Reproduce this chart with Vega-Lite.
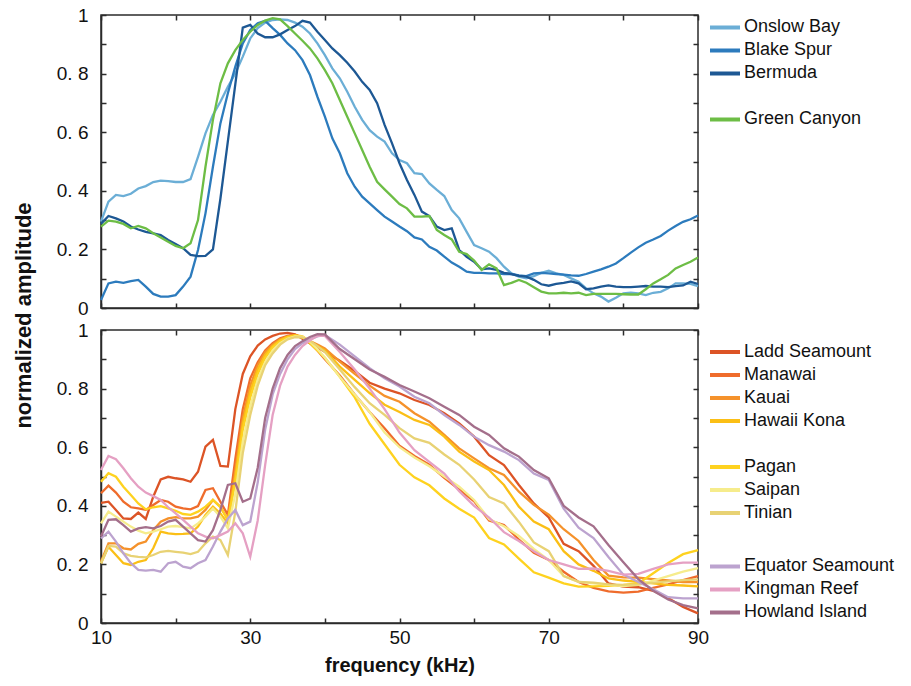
{
 "$schema": "https://vega.github.io/schema/vega-lite/v6.json",
 "background": "white",
 "padding": {"left": 11, "top": 5, "right": 5, "bottom": 5},
 "spacing": 22,
 "bounds": "flush",
 "config": {
  "font": "Liberation Sans",
  "view": {"stroke": "#2b2b2b", "strokeWidth": 1.5},
  "axis": {"domainColor": "#2b2b2b", "domainWidth": 1.5, "tickColor": "#2b2b2b", "tickWidth": 1.5, "tickSize": -5, "grid": false, "labelFont": "Liberation Sans", "labelFontSize": 19, "labelColor": "#111", "labelOverlap": false, "titleFont": "Liberation Sans", "titleFontSize": 20, "titleFontWeight": "bold", "titleColor": "#111"},
  "legend": {"orient": "none", "title": null, "symbolType": "stroke", "symbolSize": 900, "symbolStrokeWidth": 4, "labelFont": "Liberation Sans", "labelFontSize": 18, "labelColor": "#111", "labelOffset": 2, "rowPadding": 0, "clipHeight": 22.75, "padding": 0, "labelLimit": 300}
 },
 "resolve": {"scale": {"color": "independent", "stroke": "independent"}},
 "vconcat": [
  {
   "width": 597, "height": 293,
   "data": {"values": [
    {"f":10,"Onslow Bay":0.295,"Blake Spur":0.027,"Bermuda":0.287,"Green Canyon":0.278},
    {"f":11,"Onslow Bay":0.363,"Blake Spur":0.084,"Bermuda":0.314,"Green Canyon":0.298},
    {"f":12,"Onslow Bay":0.386,"Blake Spur":0.09,"Bermuda":0.306,"Green Canyon":0.295},
    {"f":13,"Onslow Bay":0.382,"Blake Spur":0.086,"Bermuda":0.295,"Green Canyon":0.287},
    {"f":14,"Onslow Bay":0.39,"Blake Spur":0.092,"Bermuda":0.278,"Green Canyon":0.272},
    {"f":15,"Onslow Bay":0.408,"Blake Spur":0.096,"Bermuda":0.268,"Green Canyon":0.28},
    {"f":16,"Onslow Bay":0.416,"Blake Spur":0.073,"Bermuda":0.26,"Green Canyon":0.272},
    {"f":17,"Onslow Bay":0.43,"Blake Spur":0.048,"Bermuda":0.255,"Green Canyon":0.255},
    {"f":18,"Onslow Bay":0.435,"Blake Spur":0.039,"Bermuda":0.249,"Green Canyon":0.241},
    {"f":19,"Onslow Bay":0.433,"Blake Spur":0.039,"Bermuda":0.232,"Green Canyon":0.226},
    {"f":20,"Onslow Bay":0.43,"Blake Spur":0.044,"Bermuda":0.218,"Green Canyon":0.212},
    {"f":21,"Onslow Bay":0.43,"Blake Spur":0.073,"Bermuda":0.204,"Green Canyon":0.204},
    {"f":22,"Onslow Bay":0.44,"Blake Spur":0.107,"Bermuda":0.181,"Green Canyon":0.221},
    {"f":23,"Onslow Bay":0.516,"Blake Spur":0.198,"Bermuda":0.177,"Green Canyon":0.3},
    {"f":24,"Onslow Bay":0.596,"Blake Spur":0.323,"Bermuda":0.178,"Green Canyon":0.482},
    {"f":25,"Onslow Bay":0.659,"Blake Spur":0.482,"Bermuda":0.2,"Green Canyon":0.642},
    {"f":26,"Onslow Bay":0.704,"Blake Spur":0.63,"Bermuda":0.373,"Green Canyon":0.767},
    {"f":27,"Onslow Bay":0.755,"Blake Spur":0.733,"Bermuda":0.569,"Green Canyon":0.835},
    {"f":28,"Onslow Bay":0.8,"Blake Spur":0.824,"Bermuda":0.764,"Green Canyon":0.88},
    {"f":29,"Onslow Bay":0.858,"Blake Spur":0.903,"Bermuda":0.957,"Green Canyon":0.915},
    {"f":30,"Onslow Bay":0.92,"Blake Spur":0.949,"Bermuda":0.966,"Green Canyon":0.943},
    {"f":31,"Onslow Bay":0.955,"Blake Spur":0.972,"Bermuda":0.937,"Green Canyon":0.966},
    {"f":32,"Onslow Bay":0.974,"Blake Spur":0.98,"Bermuda":0.924,"Green Canyon":0.981},
    {"f":33,"Onslow Bay":0.983,"Blake Spur":0.955,"Bermuda":0.924,"Green Canyon":0.989},
    {"f":34,"Onslow Bay":0.985,"Blake Spur":0.932,"Bermuda":0.934,"Green Canyon":0.985},
    {"f":35,"Onslow Bay":0.983,"Blake Spur":0.903,"Bermuda":0.949,"Green Canyon":0.962},
    {"f":36,"Onslow Bay":0.974,"Blake Spur":0.88,"Bermuda":0.962,"Green Canyon":0.937},
    {"f":37,"Onslow Bay":0.96,"Blake Spur":0.846,"Bermuda":0.98,"Green Canyon":0.912},
    {"f":38,"Onslow Bay":0.937,"Blake Spur":0.795,"Bermuda":0.974,"Green Canyon":0.886},
    {"f":39,"Onslow Bay":0.903,"Blake Spur":0.721,"Bermuda":0.943,"Green Canyon":0.852},
    {"f":40,"Onslow Bay":0.863,"Blake Spur":0.653,"Bermuda":0.915,"Green Canyon":0.812},
    {"f":41,"Onslow Bay":0.818,"Blake Spur":0.579,"Bermuda":0.886,"Green Canyon":0.767},
    {"f":42,"Onslow Bay":0.784,"Blake Spur":0.528,"Bermuda":0.863,"Green Canyon":0.71},
    {"f":43,"Onslow Bay":0.738,"Blake Spur":0.46,"Bermuda":0.837,"Green Canyon":0.653},
    {"f":44,"Onslow Bay":0.687,"Blake Spur":0.414,"Bermuda":0.807,"Green Canyon":0.596},
    {"f":45,"Onslow Bay":0.642,"Blake Spur":0.38,"Bermuda":0.772,"Green Canyon":0.539},
    {"f":46,"Onslow Bay":0.607,"Blake Spur":0.357,"Bermuda":0.744,"Green Canyon":0.482},
    {"f":47,"Onslow Bay":0.585,"Blake Spur":0.334,"Bermuda":0.699,"Green Canyon":0.431},
    {"f":48,"Onslow Bay":0.568,"Blake Spur":0.312,"Bermuda":0.625,"Green Canyon":0.405},
    {"f":49,"Onslow Bay":0.528,"Blake Spur":0.295,"Bermuda":0.562,"Green Canyon":0.38},
    {"f":50,"Onslow Bay":0.505,"Blake Spur":0.278,"Bermuda":0.494,"Green Canyon":0.355},
    {"f":51,"Onslow Bay":0.494,"Blake Spur":0.262,"Bermuda":0.437,"Green Canyon":0.34},
    {"f":52,"Onslow Bay":0.46,"Blake Spur":0.241,"Bermuda":0.386,"Green Canyon":0.312},
    {"f":53,"Onslow Bay":0.457,"Blake Spur":0.234,"Bermuda":0.329,"Green Canyon":0.312},
    {"f":54,"Onslow Bay":0.425,"Blake Spur":0.209,"Bermuda":0.314,"Green Canyon":0.314},
    {"f":55,"Onslow Bay":0.403,"Blake Spur":0.196,"Bermuda":0.278,"Green Canyon":0.266},
    {"f":56,"Onslow Bay":0.382,"Blake Spur":0.175,"Bermuda":0.266,"Green Canyon":0.249},
    {"f":57,"Onslow Bay":0.334,"Blake Spur":0.155,"Bermuda":0.272,"Green Canyon":0.234},
    {"f":58,"Onslow Bay":0.306,"Blake Spur":0.141,"Bermuda":0.198,"Green Canyon":0.192},
    {"f":59,"Onslow Bay":0.26,"Blake Spur":0.124,"Bermuda":0.175,"Green Canyon":0.184},
    {"f":60,"Onslow Bay":0.215,"Blake Spur":0.12,"Bermuda":0.158,"Green Canyon":0.162},
    {"f":61,"Onslow Bay":0.204,"Blake Spur":0.12,"Bermuda":0.132,"Green Canyon":0.13},
    {"f":62,"Onslow Bay":0.192,"Blake Spur":0.118,"Bermuda":0.135,"Green Canyon":0.149},
    {"f":63,"Onslow Bay":0.17,"Blake Spur":0.118,"Bermuda":0.13,"Green Canyon":0.135},
    {"f":64,"Onslow Bay":0.141,"Blake Spur":0.116,"Bermuda":0.12,"Green Canyon":0.078},
    {"f":65,"Onslow Bay":0.118,"Blake Spur":0.116,"Bermuda":0.116,"Green Canyon":0.086},
    {"f":66,"Onslow Bay":0.107,"Blake Spur":0.111,"Bermuda":0.11,"Green Canyon":0.096},
    {"f":67,"Onslow Bay":0.101,"Blake Spur":0.109,"Bermuda":0.107,"Green Canyon":0.086},
    {"f":68,"Onslow Bay":0.109,"Blake Spur":0.118,"Bermuda":0.096,"Green Canyon":0.071},
    {"f":69,"Onslow Bay":0.12,"Blake Spur":0.12,"Bermuda":0.081,"Green Canyon":0.056},
    {"f":70,"Onslow Bay":0.127,"Blake Spur":0.118,"Bermuda":0.076,"Green Canyon":0.05},
    {"f":71,"Onslow Bay":0.118,"Blake Spur":0.116,"Bermuda":0.082,"Green Canyon":0.05},
    {"f":72,"Onslow Bay":0.113,"Blake Spur":0.114,"Bermuda":0.086,"Green Canyon":0.052},
    {"f":73,"Onslow Bay":0.101,"Blake Spur":0.111,"Bermuda":0.091,"Green Canyon":0.05},
    {"f":74,"Onslow Bay":0.09,"Blake Spur":0.11,"Bermuda":0.084,"Green Canyon":0.052},
    {"f":75,"Onslow Bay":0.067,"Blake Spur":0.116,"Bermuda":0.064,"Green Canyon":0.044},
    {"f":76,"Onslow Bay":0.05,"Blake Spur":0.124,"Bermuda":0.067,"Green Canyon":0.048},
    {"f":77,"Onslow Bay":0.039,"Blake Spur":0.132,"Bermuda":0.073,"Green Canyon":0.048},
    {"f":78,"Onslow Bay":0.022,"Blake Spur":0.141,"Bermuda":0.077,"Green Canyon":0.048},
    {"f":79,"Onslow Bay":0.035,"Blake Spur":0.152,"Bermuda":0.073,"Green Canyon":0.048},
    {"f":80,"Onslow Bay":0.05,"Blake Spur":0.17,"Bermuda":0.071,"Green Canyon":0.047},
    {"f":81,"Onslow Bay":0.052,"Blake Spur":0.189,"Bermuda":0.071,"Green Canyon":0.046},
    {"f":82,"Onslow Bay":0.05,"Blake Spur":0.207,"Bermuda":0.073,"Green Canyon":0.046},
    {"f":83,"Onslow Bay":0.044,"Blake Spur":0.223,"Bermuda":0.075,"Green Canyon":0.064},
    {"f":84,"Onslow Bay":0.052,"Blake Spur":0.234,"Bermuda":0.073,"Green Canyon":0.084},
    {"f":85,"Onslow Bay":0.055,"Blake Spur":0.246,"Bermuda":0.073,"Green Canyon":0.098},
    {"f":86,"Onslow Bay":0.067,"Blake Spur":0.264,"Bermuda":0.071,"Green Canyon":0.113},
    {"f":87,"Onslow Bay":0.084,"Blake Spur":0.28,"Bermuda":0.075,"Green Canyon":0.135},
    {"f":88,"Onslow Bay":0.084,"Blake Spur":0.294,"Bermuda":0.077,"Green Canyon":0.147},
    {"f":89,"Onslow Bay":0.082,"Blake Spur":0.303,"Bermuda":0.09,"Green Canyon":0.158},
    {"f":90,"Onslow Bay":0.075,"Blake Spur":0.316,"Bermuda":0.082,"Green Canyon":0.172}
   ]},
   "transform": [{"fold": ["Onslow Bay", "Blake Spur", "Bermuda", "Green Canyon"], "as": ["site", "amp"]}],
   "resolve": {"axis": {"x": "independent", "y": "independent"}},
   "layer": [
    {
     "mark": {"type": "line", "strokeWidth": 2.3},
     "encoding": {
      "x": {"field": "f", "type": "quantitative", "scale": {"domain": [10, 90], "nice": false, "zero": false}, "axis": {"values": [10,20,30,40,50,60,70,80,90], "labels": false, "title": null}},
      "y": {"field": "amp", "type": "quantitative", "scale": {"domain": [0, 1], "nice": false}, "axis": {"values": [0,0.1,0.2,0.3,0.4,0.5,0.6,0.7,0.8,0.9,1], "labelPadding": 18, "labelExpr": "datum.value == 0 ? '0' : datum.value == 1 ? '1' : (round(datum.value*10) % 2 == 0 ? '0. ' + round(datum.value*10) : '')", "title": null}},
      "color": {"field": "site", "type": "nominal", "scale": {"domain": ["Onslow Bay", "Blake Spur", "Bermuda", " ", "Green Canyon"], "range": ["#6baed6", "#2c7bbd", "#1d5894", "rgba(0,0,0,0)", "#6dbd45"]}, "legend": {"legendX": 607, "legendY": 1}}
     }
    },
    {
     "mark": {"type": "line", "opacity": 0},
     "encoding": {
      "x": {"field": "f", "type": "quantitative", "axis": {"orient": "top", "values": [10,20,30,40,50,60,70,80,90], "labels": false, "domain": false, "title": null}},
      "y": {"field": "amp", "type": "quantitative", "axis": {"orient": "right", "values": [0,0.1,0.2,0.3,0.4,0.5,0.6,0.7,0.8,0.9,1], "labels": false, "domain": false, "title": null}},
      "detail": {"field": "site"}
     }
    }
   ]
  },
  {
   "width": 597, "height": 293,
   "data": {"values": [
    {"f":10,"Ladd Seamount":0.41,"Manawai":0.443,"Kauai":0.209,"Hawaii Kona":0.204,"Pagan":0.482,"Saipan":0.34,"Tinian":0.204,"Equator Seamount":0.289,"Kingman Reef":0.522,"Howland Island":0.295},
    {"f":11,"Ladd Seamount":0.414,"Manawai":0.469,"Kauai":0.272,"Hawaii Kona":0.26,"Pagan":0.511,"Saipan":0.38,"Tinian":0.263,"Equator Seamount":0.312,"Kingman Reef":0.57,"Howland Island":0.352},
    {"f":12,"Ladd Seamount":0.386,"Manawai":0.445,"Kauai":0.272,"Hawaii Kona":0.232,"Pagan":0.499,"Saipan":0.363,"Tinian":0.261,"Equator Seamount":0.278,"Kingman Reef":0.559,"Howland Island":0.354},
    {"f":13,"Ladd Seamount":0.357,"Manawai":0.414,"Kauai":0.255,"Hawaii Kona":0.204,"Pagan":0.465,"Saipan":0.346,"Tinian":0.238,"Equator Seamount":0.238,"Kingman Reef":0.528,"Howland Island":0.334},
    {"f":14,"Ladd Seamount":0.355,"Manawai":0.395,"Kauai":0.251,"Hawaii Kona":0.198,"Pagan":0.437,"Saipan":0.329,"Tinian":0.229,"Equator Seamount":0.204,"Kingman Reef":0.494,"Howland Island":0.312},
    {"f":15,"Ladd Seamount":0.377,"Manawai":0.391,"Kauai":0.27,"Hawaii Kona":0.209,"Pagan":0.408,"Saipan":0.315,"Tinian":0.226,"Equator Seamount":0.181,"Kingman Reef":0.465,"Howland Island":0.323},
    {"f":16,"Ladd Seamount":0.355,"Manawai":0.386,"Kauai":0.278,"Hawaii Kona":0.215,"Pagan":0.388,"Saipan":0.306,"Tinian":0.224,"Equator Seamount":0.179,"Kingman Reef":0.445,"Howland Island":0.327},
    {"f":17,"Ladd Seamount":0.431,"Manawai":0.403,"Kauai":0.317,"Hawaii Kona":0.255,"Pagan":0.395,"Saipan":0.312,"Tinian":0.232,"Equator Seamount":0.181,"Kingman Reef":0.433,"Howland Island":0.323},
    {"f":18,"Ladd Seamount":0.49,"Manawai":0.42,"Kauai":0.346,"Hawaii Kona":0.312,"Pagan":0.399,"Saipan":0.32,"Tinian":0.243,"Equator Seamount":0.175,"Kingman Reef":0.42,"Howland Island":0.331},
    {"f":19,"Ladd Seamount":0.499,"Manawai":0.414,"Kauai":0.357,"Hawaii Kona":0.306,"Pagan":0.391,"Saipan":0.329,"Tinian":0.246,"Equator Seamount":0.204,"Kingman Reef":0.395,"Howland Island":0.346},
    {"f":20,"Ladd Seamount":0.494,"Manawai":0.397,"Kauai":0.361,"Hawaii Kona":0.303,"Pagan":0.383,"Saipan":0.331,"Tinian":0.243,"Equator Seamount":0.209,"Kingman Reef":0.374,"Howland Island":0.352},
    {"f":21,"Ladd Seamount":0.49,"Manawai":0.391,"Kauai":0.357,"Hawaii Kona":0.304,"Pagan":0.372,"Saipan":0.327,"Tinian":0.24,"Equator Seamount":0.192,"Kingman Reef":0.352,"Howland Island":0.329},
    {"f":22,"Ladd Seamount":0.482,"Manawai":0.388,"Kauai":0.357,"Hawaii Kona":0.306,"Pagan":0.369,"Saipan":0.323,"Tinian":0.235,"Equator Seamount":0.187,"Kingman Reef":0.329,"Howland Island":0.306},
    {"f":23,"Ladd Seamount":0.516,"Manawai":0.399,"Kauai":0.363,"Hawaii Kona":0.329,"Pagan":0.38,"Saipan":0.34,"Tinian":0.243,"Equator Seamount":0.204,"Kingman Reef":0.306,"Howland Island":0.283},
    {"f":24,"Ladd Seamount":0.602,"Manawai":0.454,"Kauai":0.386,"Hawaii Kona":0.369,"Pagan":0.397,"Saipan":0.363,"Tinian":0.272,"Equator Seamount":0.215,"Kingman Reef":0.295,"Howland Island":0.278},
    {"f":25,"Ladd Seamount":0.625,"Manawai":0.46,"Kauai":0.42,"Hawaii Kona":0.397,"Pagan":0.42,"Saipan":0.391,"Tinian":0.295,"Equator Seamount":0.261,"Kingman Reef":0.289,"Howland Island":0.317},
    {"f":26,"Ladd Seamount":0.536,"Manawai":0.414,"Kauai":0.397,"Hawaii Kona":0.374,"Pagan":0.395,"Saipan":0.363,"Tinian":0.283,"Equator Seamount":0.312,"Kingman Reef":0.3,"Howland Island":0.386},
    {"f":27,"Ladd Seamount":0.534,"Manawai":0.369,"Kauai":0.352,"Hawaii Kona":0.34,"Pagan":0.352,"Saipan":0.323,"Tinian":0.232,"Equator Seamount":0.357,"Kingman Reef":0.312,"Howland Island":0.471},
    {"f":28,"Ladd Seamount":0.73,"Manawai":0.56,"Kauai":0.52,"Hawaii Kona":0.5,"Pagan":0.48,"Saipan":0.44,"Tinian":0.38,"Equator Seamount":0.386,"Kingman Reef":0.34,"Howland Island":0.477},
    {"f":29,"Ladd Seamount":0.85,"Manawai":0.73,"Kauai":0.7,"Hawaii Kona":0.68,"Pagan":0.66,"Saipan":0.62,"Tinian":0.58,"Equator Seamount":0.334,"Kingman Reef":0.306,"Howland Island":0.414},
    {"f":30,"Ladd Seamount":0.91,"Manawai":0.835,"Kauai":0.81,"Hawaii Kona":0.79,"Pagan":0.77,"Saipan":0.74,"Tinian":0.71,"Equator Seamount":0.346,"Kingman Reef":0.226,"Howland Island":0.425},
    {"f":31,"Ladd Seamount":0.947,"Manawai":0.89,"Kauai":0.88,"Hawaii Kona":0.865,"Pagan":0.85,"Saipan":0.83,"Tinian":0.81,"Equator Seamount":0.48,"Kingman Reef":0.35,"Howland Island":0.53},
    {"f":32,"Ladd Seamount":0.968,"Manawai":0.93,"Kauai":0.925,"Hawaii Kona":0.915,"Pagan":0.905,"Saipan":0.89,"Tinian":0.88,"Equator Seamount":0.66,"Kingman Reef":0.54,"Howland Island":0.7},
    {"f":33,"Ladd Seamount":0.98,"Manawai":0.955,"Kauai":0.95,"Hawaii Kona":0.945,"Pagan":0.94,"Saipan":0.93,"Tinian":0.92,"Equator Seamount":0.78,"Kingman Reef":0.71,"Howland Island":0.8},
    {"f":34,"Ladd Seamount":0.988,"Manawai":0.972,"Kauai":0.968,"Hawaii Kona":0.965,"Pagan":0.962,"Saipan":0.955,"Tinian":0.95,"Equator Seamount":0.85,"Kingman Reef":0.81,"Howland Island":0.87},
    {"f":35,"Ladd Seamount":0.99,"Manawai":0.98,"Kauai":0.978,"Hawaii Kona":0.977,"Pagan":0.975,"Saipan":0.97,"Tinian":0.968,"Equator Seamount":0.9,"Kingman Reef":0.875,"Howland Island":0.915},
    {"f":36,"Ladd Seamount":0.985,"Manawai":0.983,"Kauai":0.982,"Hawaii Kona":0.982,"Pagan":0.98,"Saipan":0.978,"Tinian":0.976,"Equator Seamount":0.935,"Kingman Reef":0.915,"Howland Island":0.945},
    {"f":37,"Ladd Seamount":0.97,"Manawai":0.975,"Kauai":0.975,"Hawaii Kona":0.978,"Pagan":0.975,"Saipan":0.977,"Tinian":0.975,"Equator Seamount":0.955,"Kingman Reef":0.945,"Howland Island":0.962},
    {"f":38,"Ladd Seamount":0.955,"Manawai":0.955,"Kauai":0.962,"Hawaii Kona":0.96,"Pagan":0.955,"Saipan":0.96,"Tinian":0.963,"Equator Seamount":0.968,"Kingman Reef":0.965,"Howland Island":0.976},
    {"f":39,"Ladd Seamount":0.94,"Manawai":0.93,"Kauai":0.95,"Hawaii Kona":0.945,"Pagan":0.93,"Saipan":0.935,"Tinian":0.945,"Equator Seamount":0.978,"Kingman Reef":0.98,"Howland Island":0.986},
    {"f":40,"Ladd Seamount":0.926,"Manawai":0.9,"Kauai":0.937,"Hawaii Kona":0.93,"Pagan":0.905,"Saipan":0.905,"Tinian":0.925,"Equator Seamount":0.983,"Kingman Reef":0.98,"Howland Island":0.985},
    {"f":42,"Ladd Seamount":0.895,"Manawai":0.845,"Kauai":0.892,"Hawaii Kona":0.875,"Pagan":0.84,"Saipan":0.84,"Tinian":0.865,"Equator Seamount":0.95,"Kingman Reef":0.925,"Howland Island":0.935},
    {"f":44,"Ladd Seamount":0.86,"Manawai":0.78,"Kauai":0.85,"Hawaii Kona":0.83,"Pagan":0.77,"Saipan":0.78,"Tinian":0.805,"Equator Seamount":0.91,"Kingman Reef":0.865,"Howland Island":0.9},
    {"f":46,"Ladd Seamount":0.82,"Manawai":0.72,"Kauai":0.81,"Hawaii Kona":0.785,"Pagan":0.68,"Saipan":0.72,"Tinian":0.75,"Equator Seamount":0.87,"Kingman Reef":0.8,"Howland Island":0.865},
    {"f":48,"Ladd Seamount":0.8,"Manawai":0.665,"Kauai":0.775,"Hawaii Kona":0.745,"Pagan":0.61,"Saipan":0.65,"Tinian":0.71,"Equator Seamount":0.835,"Kingman Reef":0.73,"Howland Island":0.84},
    {"f":50,"Ladd Seamount":0.784,"Manawai":0.605,"Kauai":0.755,"Hawaii Kona":0.72,"Pagan":0.54,"Saipan":0.6,"Tinian":0.665,"Equator Seamount":0.807,"Kingman Reef":0.65,"Howland Island":0.812},
    {"f":52,"Ladd Seamount":0.761,"Manawai":0.57,"Kauai":0.716,"Hawaii Kona":0.693,"Pagan":0.497,"Saipan":0.565,"Tinian":0.63,"Equator Seamount":0.772,"Kingman Reef":0.59,"Howland Island":0.79},
    {"f":54,"Ladd Seamount":0.744,"Manawai":0.54,"Kauai":0.687,"Hawaii Kona":0.676,"Pagan":0.47,"Saipan":0.535,"Tinian":0.615,"Equator Seamount":0.75,"Kingman Reef":0.55,"Howland Island":0.767},
    {"f":56,"Ladd Seamount":0.716,"Manawai":0.495,"Kauai":0.642,"Hawaii Kona":0.636,"Pagan":0.425,"Saipan":0.5,"Tinian":0.575,"Equator Seamount":0.71,"Kingman Reef":0.51,"Howland Island":0.738},
    {"f":58,"Ladd Seamount":0.681,"Manawai":0.455,"Kauai":0.596,"Hawaii Kona":0.585,"Pagan":0.39,"Saipan":0.465,"Tinian":0.54,"Equator Seamount":0.676,"Kingman Reef":0.45,"Howland Island":0.71},
    {"f":60,"Ladd Seamount":0.636,"Manawai":0.415,"Kauai":0.562,"Hawaii Kona":0.551,"Pagan":0.36,"Saipan":0.42,"Tinian":0.49,"Equator Seamount":0.636,"Kingman Reef":0.4,"Howland Island":0.67},
    {"f":62,"Ladd Seamount":0.573,"Manawai":0.35,"Kauai":0.528,"Hawaii Kona":0.522,"Pagan":0.29,"Saipan":0.355,"Tinian":0.43,"Equator Seamount":0.607,"Kingman Reef":0.36,"Howland Island":0.642},
    {"f":64,"Ladd Seamount":0.539,"Manawai":0.334,"Kauai":0.505,"Hawaii Kona":0.471,"Pagan":0.268,"Saipan":0.33,"Tinian":0.408,"Equator Seamount":0.585,"Kingman Reef":0.31,"Howland Island":0.596},
    {"f":66,"Ladd Seamount":0.471,"Manawai":0.285,"Kauai":0.448,"Hawaii Kona":0.397,"Pagan":0.22,"Saipan":0.297,"Tinian":0.345,"Equator Seamount":0.556,"Kingman Reef":0.28,"Howland Island":0.568},
    {"f":68,"Ladd Seamount":0.408,"Manawai":0.24,"Kauai":0.403,"Hawaii Kona":0.346,"Pagan":0.173,"Saipan":0.253,"Tinian":0.275,"Equator Seamount":0.51,"Kingman Reef":0.245,"Howland Island":0.522},
    {"f":70,"Ladd Seamount":0.36,"Manawai":0.215,"Kauai":0.37,"Hawaii Kona":0.32,"Pagan":0.155,"Saipan":0.215,"Tinian":0.245,"Equator Seamount":0.488,"Kingman Reef":0.215,"Howland Island":0.494},
    {"f":72,"Ladd Seamount":0.27,"Manawai":0.175,"Kauai":0.32,"Hawaii Kona":0.245,"Pagan":0.135,"Saipan":0.16,"Tinian":0.16,"Equator Seamount":0.39,"Kingman Reef":0.2,"Howland Island":0.4},
    {"f":74,"Ladd Seamount":0.245,"Manawai":0.14,"Kauai":0.28,"Hawaii Kona":0.2,"Pagan":0.124,"Saipan":0.14,"Tinian":0.14,"Equator Seamount":0.325,"Kingman Reef":0.185,"Howland Island":0.36},
    {"f":76,"Ladd Seamount":0.195,"Manawai":0.12,"Kauai":0.215,"Hawaii Kona":0.178,"Pagan":0.125,"Saipan":0.135,"Tinian":0.138,"Equator Seamount":0.29,"Kingman Reef":0.186,"Howland Island":0.33},
    {"f":78,"Ladd Seamount":0.135,"Manawai":0.108,"Kauai":0.162,"Hawaii Kona":0.152,"Pagan":0.127,"Saipan":0.13,"Tinian":0.132,"Equator Seamount":0.225,"Kingman Reef":0.178,"Howland Island":0.266},
    {"f":80,"Ladd Seamount":0.124,"Manawai":0.104,"Kauai":0.156,"Hawaii Kona":0.145,"Pagan":0.13,"Saipan":0.126,"Tinian":0.13,"Equator Seamount":0.165,"Kingman Reef":0.165,"Howland Island":0.207},
    {"f":82,"Ladd Seamount":0.122,"Manawai":0.107,"Kauai":0.155,"Hawaii Kona":0.14,"Pagan":0.135,"Saipan":0.13,"Tinian":0.132,"Equator Seamount":0.14,"Kingman Reef":0.168,"Howland Island":0.15},
    {"f":84,"Ladd Seamount":0.11,"Manawai":0.12,"Kauai":0.15,"Hawaii Kona":0.135,"Pagan":0.17,"Saipan":0.145,"Tinian":0.138,"Equator Seamount":0.115,"Kingman Reef":0.185,"Howland Island":0.11},
    {"f":86,"Ladd Seamount":0.085,"Manawai":0.132,"Kauai":0.145,"Hawaii Kona":0.13,"Pagan":0.205,"Saipan":0.16,"Tinian":0.142,"Equator Seamount":0.088,"Kingman Reef":0.2,"Howland Island":0.08},
    {"f":88,"Ladd Seamount":0.055,"Manawai":0.146,"Kauai":0.14,"Hawaii Kona":0.128,"Pagan":0.235,"Saipan":0.175,"Tinian":0.146,"Equator Seamount":0.084,"Kingman Reef":0.206,"Howland Island":0.061},
    {"f":90,"Ladd Seamount":0.033,"Manawai":0.16,"Kauai":0.14,"Hawaii Kona":0.125,"Pagan":0.249,"Saipan":0.187,"Tinian":0.149,"Equator Seamount":0.084,"Kingman Reef":0.206,"Howland Island":0.05}
   ]},
   "transform": [{"fold": ["Ladd Seamount", "Manawai", "Kauai", "Hawaii Kona", "Pagan", "Saipan", "Tinian", "Equator Seamount", "Kingman Reef", "Howland Island"], "as": ["site", "amp"]}],
   "resolve": {"axis": {"x": "independent", "y": "independent"}},
   "layer": [
    {
     "transform": [{"filter": {"field": "site", "oneOf": ["Ladd Seamount", "Manawai", "Kauai", "Hawaii Kona", "Pagan", "Saipan", "Tinian"]}}],
     "mark": {"type": "line", "strokeWidth": 2.3},
     "encoding": {
      "x": {"field": "f", "type": "quantitative", "scale": {"domain": [10, 90], "nice": false, "zero": false}, "axis": {"values": [10,20,30,40,50,60,70,80,90], "labelFlush": false, "labelPadding": 10, "labelExpr": "datum.value % 20 == 10 ? datum.label : ''", "title": "frequency (kHz)", "titlePadding": 8}},
      "y": {"field": "amp", "type": "quantitative", "scale": {"domain": [0, 1], "nice": false}, "axis": {"values": [0,0.1,0.2,0.3,0.4,0.5,0.6,0.7,0.8,0.9,1], "labelPadding": 18, "labelExpr": "datum.value == 0 ? '0' : datum.value == 1 ? '1' : (round(datum.value*10) % 2 == 0 ? '0. ' + round(datum.value*10) : '')", "title": "normalized amplitude", "titleFontSize": 22, "titleY": -15, "titlePadding": 21}},
      "color": {"field": "site", "type": "nominal", "scale": {"domain": ["Ladd Seamount", "Manawai", "Kauai", "Hawaii Kona", " ", "Pagan", "Saipan", "Tinian"], "range": ["#dc5426", "#ef6c2c", "#f5922b", "#fbbf16", "rgba(0,0,0,0)", "#fed21f", "#f6ec8c", "#e8d274"]}, "legend": {"legendX": 607, "legendY": 10.5}}
     }
    },
    {
     "transform": [{"filter": {"field": "site", "oneOf": ["Equator Seamount", "Kingman Reef", "Howland Island"]}}],
     "mark": {"type": "line", "strokeWidth": 2.3},
     "encoding": {
      "x": {"field": "f", "type": "quantitative", "axis": null},
      "y": {"field": "amp", "type": "quantitative", "axis": null},
      "stroke": {"field": "site", "type": "nominal", "scale": {"domain": ["Equator Seamount", "Kingman Reef", "Howland Island"], "range": ["#bca3cf", "#e5a0c3", "#a46f8b"]}, "legend": {"legendX": 607, "legendY": 225}}
     }
    },
    {
     "mark": {"type": "line", "opacity": 0},
     "encoding": {
      "x": {"field": "f", "type": "quantitative", "axis": {"orient": "top", "values": [10,20,30,40,50,60,70,80,90], "labels": false, "domain": false, "title": null}},
      "y": {"field": "amp", "type": "quantitative", "axis": {"orient": "right", "values": [0,0.1,0.2,0.3,0.4,0.5,0.6,0.7,0.8,0.9,1], "labels": false, "domain": false, "title": null}},
      "detail": {"field": "site"}
     }
    }
   ]
  }
 ]
}
